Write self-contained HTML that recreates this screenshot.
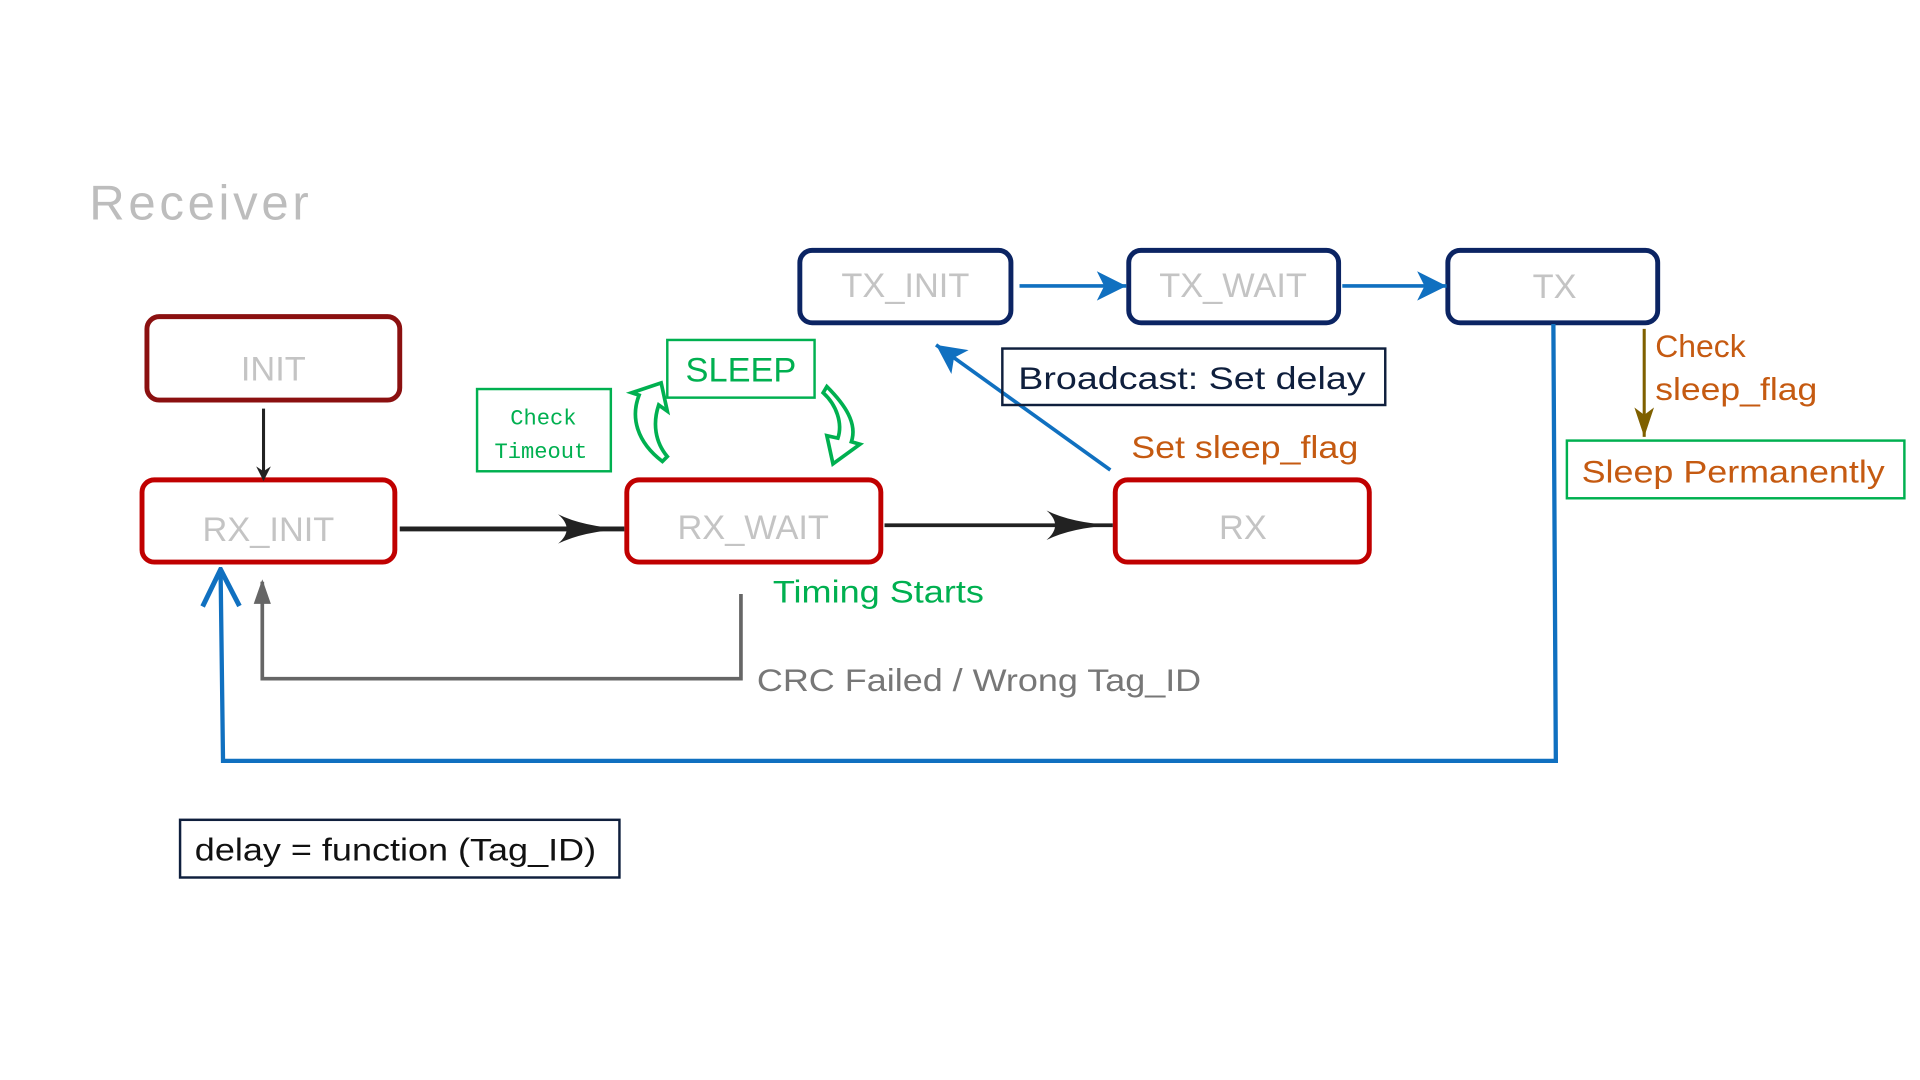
<!DOCTYPE html>
<html><head><meta charset="utf-8"><style>
html,body{margin:0;padding:0;background:#fff;}
svg{display:block;}
text{font-family:"Liberation Sans",sans-serif;}
</style></head><body>
<svg width="1920" height="1080" viewBox="2 0 1563 880" xmlns="http://www.w3.org/2000/svg">
<defs>
<marker id="bk" markerWidth="12" markerHeight="12" refX="10" refY="6" orient="auto" markerUnits="userSpaceOnUse"><path d="M0,0 L12,6 L0,12 L4,6 z" fill="#222"/></marker>
<marker id="bh" markerWidth="56" markerHeight="28" refX="54" refY="14" orient="auto" markerUnits="userSpaceOnUse"><path d="M0,2 Q20,12 54,14 Q20,16 0,26 Q14,14 0,2 z" fill="#222"/></marker>
<marker id="bl" markerWidth="28" markerHeight="28" refX="26" refY="14" orient="auto" markerUnits="userSpaceOnUse"><path d="M2,2 L26,14 L2,26 L8,14 z" fill="#1070c0"/></marker>
<marker id="blo" markerWidth="34" markerHeight="34" refX="32" refY="17" orient="auto" markerUnits="userSpaceOnUse"><path d="M2,2 L32,17 L2,32" fill="none" stroke="#1070c0" stroke-width="4"/></marker>
<marker id="gr" markerWidth="20" markerHeight="20" refX="18" refY="10" orient="auto" markerUnits="userSpaceOnUse"><path d="M0,3 L20,10 L0,17 z" fill="#666"/></marker>
<marker id="ol" markerWidth="26" markerHeight="20" refX="24" refY="10" orient="auto" markerUnits="userSpaceOnUse"><path d="M0,2 L24,10 L0,18 L6,10 z" fill="#7f6000"/></marker>
</defs>

<text x="74" y="179" font-size="40" fill="#bdbdbd" letter-spacing="3">Receiver</text>

<g fill="none" stroke-width="4">
<rect x="121" y="258" width="206" height="68" rx="10" stroke="#8b1010"/>
<rect x="117" y="391" width="206" height="67" rx="10" stroke="#c00000"/>
<rect x="512" y="391" width="207" height="67" rx="10" stroke="#c00000"/>
<rect x="910" y="391" width="207" height="67" rx="10" stroke="#c00000"/>
<rect x="653" y="204" width="172" height="59" rx="10" stroke="#0b2463"/>
<rect x="921" y="204" width="171" height="59" rx="10" stroke="#0b2463"/>
<rect x="1181" y="204" width="171" height="59" rx="10" stroke="#0b2463"/>
</g>
<g font-size="28" fill="#c4c4c4" text-anchor="middle">
<text x="224" y="310">INIT</text>
<text x="220" y="441">RX_INIT</text>
<text x="615" y="439">RX_WAIT</text>
<text x="1014" y="439">RX</text>
<text x="739" y="242">TX_INIT</text>
<text x="1006" y="242">TX_WAIT</text>
<text x="1268" y="243">TX</text>
</g>

<line x1="216" y1="333" x2="216" y2="390" stroke="#222" stroke-width="2.5" marker-end="url(#bk)"/>
<line x1="327" y1="431" x2="510" y2="431" stroke="#222" stroke-width="4" marker-end="url(#bh)"/>
<line x1="722" y1="428" x2="908" y2="428" stroke="#222" stroke-width="3" marker-end="url(#bh)"/>
<line x1="832" y1="233" x2="919" y2="233" stroke="#1070c0" stroke-width="3" marker-end="url(#bl)"/>
<line x1="1095" y1="233" x2="1180" y2="233" stroke="#1070c0" stroke-width="3" marker-end="url(#bl)"/>
<line x1="906" y1="383" x2="764" y2="281" stroke="#1070c0" stroke-width="3" marker-end="url(#bl)"/>

<rect x="818" y="284" width="312" height="46" fill="none" stroke="#0f1f3d" stroke-width="2"/>
<text x="831" y="317" font-size="26" fill="#0f1f3d" textLength="283" lengthAdjust="spacingAndGlyphs">Broadcast:  Set delay</text>
<text x="923" y="373" font-size="26" fill="#c55a11" textLength="185" lengthAdjust="spacingAndGlyphs">Set sleep_flag</text>

<line x1="1341" y1="268" x2="1341" y2="356" stroke="#7f6000" stroke-width="2.5" marker-end="url(#ol)"/>
<text x="1350" y="291" font-size="26" fill="#c55a11">Check</text>
<text x="1350" y="326" font-size="26" fill="#c55a11" textLength="132" lengthAdjust="spacingAndGlyphs">sleep_flag</text>
<rect x="1278" y="359" width="275" height="47" fill="none" stroke="#00b050" stroke-width="2"/>
<text x="1290" y="393" font-size="26" fill="#c55a11" textLength="247" lengthAdjust="spacingAndGlyphs">Sleep Permanently</text>

<polyline points="1267,264 1269,620 183,620 181,464" fill="none" stroke="#1070c0" stroke-width="3.5" marker-end="url(#blo)"/>
<polyline points="605,484 605,553 215,553 215,474" fill="none" stroke="#666" stroke-width="3" marker-end="url(#gr)"/>
<text x="618" y="563" font-size="26" fill="#777" textLength="362" lengthAdjust="spacingAndGlyphs">CRC Failed / Wrong Tag_ID</text>
<text x="631" y="491" font-size="26" fill="#00b050" textLength="172" lengthAdjust="spacingAndGlyphs">Timing Starts</text>

<rect x="545" y="277" width="120" height="47" fill="none" stroke="#00b050" stroke-width="2"/>
<text x="605" y="311" font-size="28" fill="#00b050" text-anchor="middle">SLEEP</text>
<rect x="390" y="317" width="109" height="67" fill="none" stroke="#00b050" stroke-width="2"/>
<text x="444" y="346" font-size="18" fill="#00b050" text-anchor="middle" style="font-family:'Liberation Mono',monospace">Check</text>
<text x="442" y="373" font-size="18" fill="#00b050" text-anchor="middle" style="font-family:'Liberation Mono',monospace">Timeout</text>

<path d="M541,376 C520,360 515,340 522,322 L516,320 L540,312 L545,335 L538,330 C533,345 535,360 545,372 z" fill="none" stroke="#00b050" stroke-width="3"/>
<path d="M675,315 C690,330 700,345 695,360 L702,362 L680,378 L675,355 L684,357 C688,345 683,330 672,320 z" fill="none" stroke="#00b050" stroke-width="3"/>

<rect x="148" y="668" width="358" height="47" fill="none" stroke="#0f1f3d" stroke-width="2"/>
<text x="160" y="701" font-size="26" fill="#111" textLength="327" lengthAdjust="spacingAndGlyphs">delay = function (Tag_ID)</text>
</svg>
</body></html>
